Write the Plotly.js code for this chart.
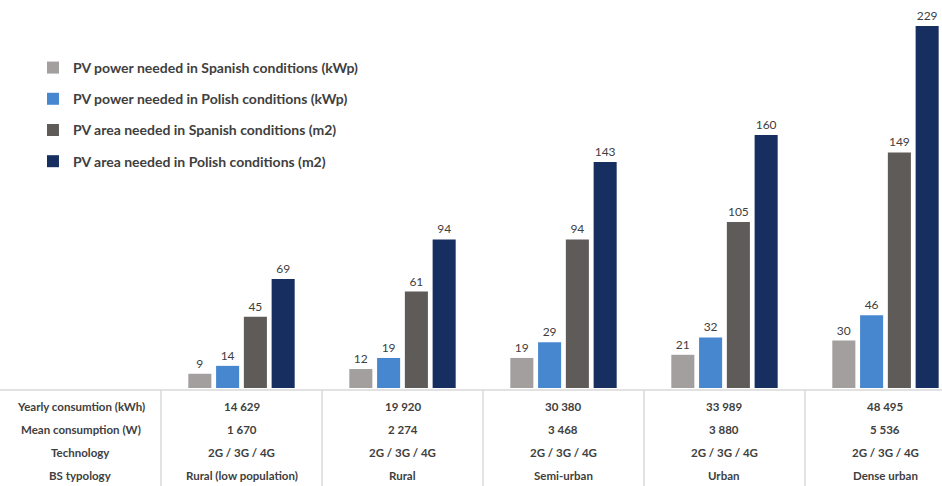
<!DOCTYPE html>
<html><head><meta charset="utf-8">
<script src="https://cdn.plot.ly/plotly-3.0.1.min.js"></script>
<style>html,body{margin:0;padding:0;background:#fff}#chart{width:942px;height:486px}</style>
</head><body><div id="chart"></div>
<script>
var categories = ["Rural (low population)", "Rural", "Semi-urban", "Urban", "Dense urban"];
var seriesNames = [
  "PV power needed in Spanish conditions (kWp)",
  "PV power needed in Polish conditions (kWp)",
  "PV area needed in Spanish conditions (m2)",
  "PV area needed in Polish conditions (m2)"
];
var pvPowerSpain = [9, 12, 19, 21, 30];
var pvPowerPoland = [14, 19, 29, 32, 46];
var pvAreaSpain = [45, 61, 94, 105, 149];
var pvAreaPoland = [69, 94, 143, 160, 229];
var yearlyConsumption = ["14 629", "19 920", "30 380", "33 989", "48 495"];
var meanConsumption = ["1 670", "2 274", "3 468", "3 880", "5 536"];
var technology = ["2G / 3G / 4G", "2G / 3G / 4G", "2G / 3G / 4G", "2G / 3G / 4G", "2G / 3G / 4G"];
var rowLabels = ["Yearly consumtion (kWh)", "Mean consumption (W)", "Technology", "BS typology"];

var colors = ["#a29f9e", "#4787cf", "#5f5b59", "#172f60"];
var allSeries = [pvPowerSpain, pvPowerPoland, pvAreaSpain, pvAreaPoland];
var xPos = categories.map(function(_, i){ return i + 1; });
var FONT = "Lato, 'Open Sans', sans-serif";

var traces = allSeries.map(function(vals, k){
  return {
    type: "bar", name: seriesNames[k], x: xPos, y: vals,
    marker: {color: colors[k]},
    text: vals.map(String), textposition: "outside",
    textfont: {family: FONT, size: 12, color: "#404040"},
    cliponaxis: false, legendgroup: "g" + k, hoverinfo: "skip"
  };
});

var rowsY = [-0.0464, -0.1057, -0.1675, -0.2268];
var tableRows = [yearlyConsumption, meanConsumption, technology, categories];
var annotations = [];
rowLabels.forEach(function(lbl, r){
  annotations.push({xref: "x", yref: "paper", x: 0, y: rowsY[r], text: lbl, showarrow: false,
    font: {family: FONT, size: 11.5, color: "#404040", weight: "bold"}, xanchor: "center", yanchor: "middle"});
  tableRows[r].forEach(function(v, i){
    annotations.push({xref: "x", yref: "paper", x: i + 1, y: rowsY[r], text: v, showarrow: false,
      font: {family: FONT, size: 11.5, color: "#404040", weight: "bold"}, xanchor: "center", yanchor: "middle"});
  });
});

var shapes = [{type: "line", xref: "paper", yref: "paper", x0: 0, x1: 1, y0: -0.005, y1: -0.005,
  line: {color: "#d9d9d9", width: 1.5}}];
for (var b = 0; b < categories.length; b++) {
  shapes.push({type: "line", xref: "x", yref: "paper", x0: b + 0.5, x1: b + 0.5, y0: -0.005, y1: -0.26,
    line: {color: "#d9d9d9", width: 1.5}});
}

var layout = {
  width: 942, height: 486,
  margin: {l: 0, r: 0, t: 0, b: 98},
  paper_bgcolor: "#fff", plot_bgcolor: "#fff",
  barmode: "group", bargap: 0.31, bargroupgap: 0.17,
  xaxis: {range: [-0.5, 5.351], showticklabels: false, showgrid: false, zeroline: false, ticks: "", fixedrange: true},
  yaxis: {range: [0, 245.4], showticklabels: false, showgrid: false, zeroline: false, ticks: "", fixedrange: true},
  showlegend: true,
  legend: {x: 0.035, y: 0.866, xanchor: "left", yanchor: "top", traceorder: "grouped", tracegroupgap: 10,
    font: {family: FONT, size: 14, color: "#404040", weight: "bold"}, bgcolor: "rgba(0,0,0,0)"},
  annotations: annotations, shapes: shapes
};
Plotly.newPlot("chart", traces, layout, {displayModeBar: false, staticPlot: true});
</script></body></html>
